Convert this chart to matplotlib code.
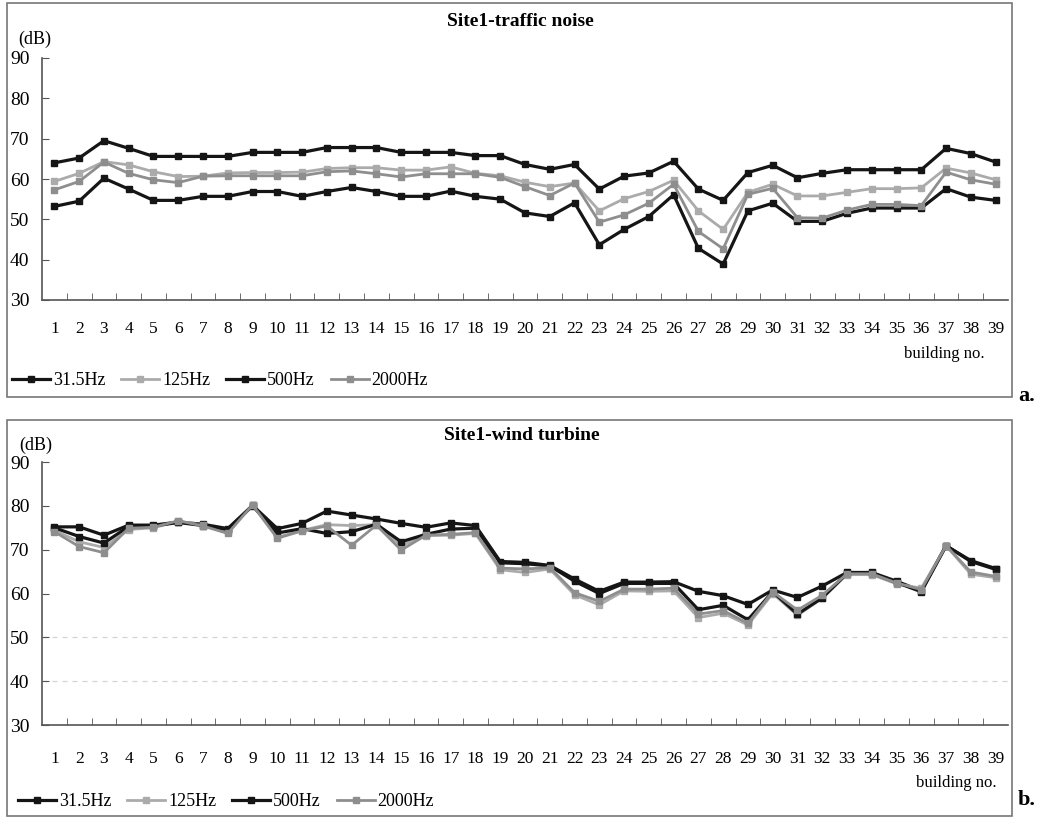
import numpy as np
import matplotlib
matplotlib.use('Agg')
from matplotlib import pyplot as plt
from matplotlib.patches import Rectangle

plt.rcParams['font.family'] = ['Liberation Serif', 'DejaVu Serif']

buildings = list(range(1, 40))
series_names = ['31.5Hz', '125Hz', '500Hz', '2000Hz']

# Site1 - traffic noise (dB)
traffic_315 = [64.0, 65.2, 69.5, 67.6, 65.6, 65.6, 65.6, 65.6, 66.6, 66.6, 66.6, 67.8, 67.8,
               67.8, 66.6, 66.6, 66.6, 65.8, 65.8, 63.6, 62.4, 63.6, 57.5, 60.7, 61.5, 64.4,
               57.5, 54.7, 61.6, 63.4, 60.3, 61.4, 62.3, 62.3, 62.3, 62.3, 67.6, 66.3, 64.2]
traffic_125 = [59.4, 61.4, 64.3, 63.5, 61.8, 60.6, 60.7, 61.5, 61.6, 61.6, 61.7, 62.6, 62.8,
               62.8, 62.2, 62.2, 63.0, 61.4, 60.8, 59.2, 58.1, 59.0, 52.1, 55.1, 56.9, 59.7,
               52.1, 47.5, 56.7, 58.7, 55.8, 55.8, 56.7, 57.6, 57.6, 57.8, 62.7, 61.5, 59.8]
traffic_500 = [53.2, 54.5, 60.2, 57.5, 54.7, 54.7, 55.7, 55.7, 56.9, 56.9, 55.7, 56.9, 57.9,
               56.9, 55.7, 55.7, 57.0, 55.7, 55.0, 51.6, 50.7, 54.1, 43.7, 47.5, 50.7, 56.1,
               42.8, 38.9, 52.1, 54.0, 49.5, 49.5, 51.5, 52.8, 52.8, 52.8, 57.6, 55.5, 54.7]
traffic_2000 = [57.3, 59.4, 64.2, 61.4, 59.8, 59.1, 60.7, 60.8, 60.8, 60.8, 60.8, 61.8, 62.0,
                61.3, 60.5, 61.3, 61.3, 61.3, 60.4, 58.1, 55.9, 59.0, 49.3, 51.1, 54.0, 58.7,
                47.0, 42.7, 56.2, 57.7, 50.4, 50.3, 52.3, 53.7, 53.7, 53.4, 61.7, 59.8, 58.7]

# Site1 - wind turbine (dB)
wind_315 = [75.2, 75.2, 73.3, 75.6, 75.6, 76.3, 75.8, 74.8, 80.1, 74.8, 76.0, 78.8, 77.9,
            77.0, 76.0, 75.1, 76.1, 75.5, 67.3, 67.1, 66.4, 63.3, 60.5, 62.6, 62.6, 62.7,
            60.5, 59.5, 57.5, 60.8, 59.1, 61.7, 64.8, 64.8, 62.8, 60.6, 70.9, 67.5, 65.7]
wind_125 = [74.4, 71.8, 70.5, 74.6, 75.0, 76.5, 75.6, 74.2, 80.2, 72.8, 74.4, 75.7, 75.5,
            75.7, 70.9, 73.2, 73.3, 73.7, 65.4, 64.8, 65.6, 59.7, 57.4, 60.6, 60.5, 60.6,
            54.5, 55.5, 52.8, 60.0, 55.0, 58.9, 64.3, 64.3, 62.2, 61.2, 70.9, 64.4, 63.6]
wind_500 = [75.0, 73.0, 71.5, 75.3, 75.4, 76.2, 75.5, 74.6, 80.0, 73.8, 74.8, 73.7, 74.1,
            75.8, 71.8, 73.5, 74.7, 74.9, 67.0, 66.8, 66.3, 62.8, 60.0, 62.3, 62.3, 62.3,
            56.3, 57.3, 54.0, 60.4, 55.3, 59.0, 64.6, 64.6, 62.5, 60.4, 70.9, 67.3, 65.5]
wind_2000 = [74.1, 70.7, 69.3, 74.9, 75.1, 76.6, 75.4, 73.7, 80.2, 72.6, 74.3, 75.4, 71.0,
             75.6, 69.9, 73.3, 73.5, 73.9, 65.8, 65.6, 65.9, 60.2, 58.2, 61.0, 61.0, 61.2,
             55.3, 56.1, 53.2, 60.4, 56.2, 59.6, 64.5, 64.5, 62.4, 60.9, 70.9, 64.9, 63.9]

colors = ['#151515', '#ababab', '#151515', '#8e8e8e']

W, H = 1040, 818
fig = plt.figure(figsize=(W / 100, H / 100), dpi=100)


def frac(l, t, r, b):
    return [l / W, 1 - b / H, (r - l) / W, (b - t) / H]


def draw_panel(box, ax_rect, data, title, title_xy, db_xy, lab_pad, bno_xy, leg_xy, tag_xy, tag):
    l, t, r, b = box
    fig.patches.append(Rectangle((l / W, 1 - b / H), (r - l) / W, (b - t) / H,
                                 transform=fig.transFigure, fill=False,
                                 edgecolor='#777777', linewidth=1.2))
    ax = fig.add_axes(frac(*ax_rect))
    ax.patch.set_alpha(0)
    handles = []
    for vals, name, c in zip(data, series_names, colors):
        lw = 2.3 if c == '#151515' else 2.0
        h, = ax.plot(buildings, vals, color=c, lw=lw, marker='s', ms=4.5,
                     mec=c, mfc=c, label=name)
        handles.append(h)
    ax.set_xlim(0.5, 39.5)
    ax.set_ylim(30, 90)
    ax.set_yticks(range(30, 91, 10))
    ax.set_xticks(buildings)
    ax.set_xticks(np.arange(1.5, 39, 1), minor=True)
    ax.tick_params(axis='x', which='major', length=0, pad=lab_pad, labelsize=12.5)
    ax.tick_params(axis='x', which='minor', direction='in', length=5, color='#555555')
    ax.tick_params(axis='y', direction='in', length=5, color='#555555', pad=9, labelsize=14)
    for s in ['top', 'right']:
        ax.spines[s].set_visible(False)
    for s in ['left', 'bottom']:
        ax.spines[s].set_color('#555555')
        ax.spines[s].set_linewidth(1.2)

    fig.text(title_xy[0] / W, 1 - title_xy[1] / H, title, ha='center', va='center',
             fontsize=14, fontweight='bold')
    fig.text(db_xy[0] / W, 1 - db_xy[1] / H, '(dB)', ha='center', va='center', fontsize=13)
    fig.text(bno_xy[0] / W, 1 - bno_xy[1] / H, 'building no.', ha='right', va='center',
             fontsize=12)
    fig.text(tag_xy[0] / W, 1 - tag_xy[1] / H, tag, ha='center', va='center',
             fontsize=16, fontweight='bold')
    ax.legend(handles=handles, loc='center left', bbox_to_anchor=(leg_xy[0] / W, 1 - leg_xy[1] / H),
              bbox_transform=fig.transFigure, ncol=4, frameon=False, fontsize=13,
              handlelength=2.1, handletextpad=0.15, columnspacing=0.9,
              borderaxespad=0, borderpad=0)
    return ax


ax1 = draw_panel((7, 3, 1012, 397), (42, 58, 1008, 300),
                 [traffic_315, traffic_125, traffic_500, traffic_2000],
                 'Site1-traffic noise', (520, 22), (35, 39), 15, (985, 354), (12, 381),
                 (1027, 396), 'a.')

ax2 = draw_panel((7, 420, 1012, 816), (42, 462, 1008, 725),
                 [wind_315, wind_125, wind_500, wind_2000],
                 'Site1-wind turbine', (522, 436), (36, 445), 19, (997, 783), (18, 802),
                 (1027, 800), 'b.')
ax2.axhline(50, color='#d4d4d4', lw=0.9, ls=(0, (4, 4)), zorder=0)
ax2.axhline(40, color='#d4d4d4', lw=0.9, ls=(0, (4, 4)), zorder=0)

fig.savefig('out.png', dpi=100)
